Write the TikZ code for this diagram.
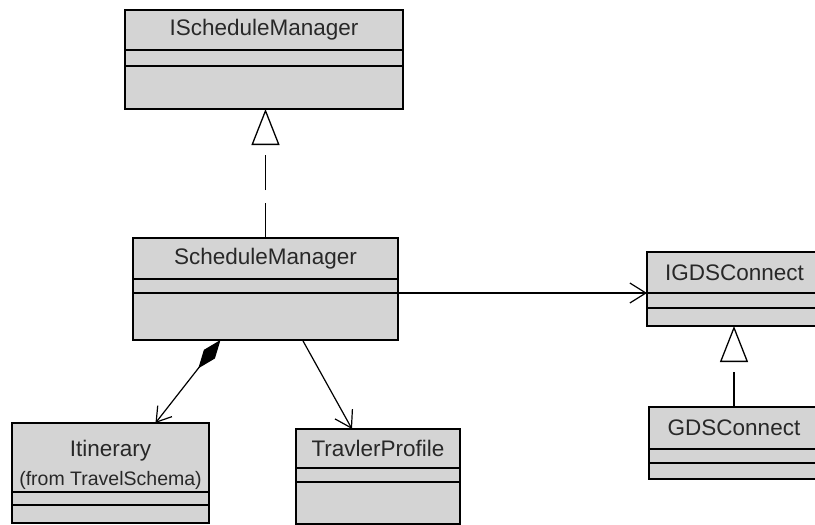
\documentclass[tikz,border=0pt]{standalone}
\usepackage{fontspec}
\setmainfont{Liberation Sans}
\usetikzlibrary{positioning,arrows.meta}
\definecolor{classgray}{RGB}{212,212,212}
\definecolor{classtext}{RGB}{40,40,40}
\newcommand{\fromfont}{\fontsize{19.5}{22}\selectfont}

\begin{document}
\begin{tikzpicture}[
		x=1pt,y=-1pt,
		node distance=0pt,
		part/.style={draw,fill=classgray,line width=1.3pt,outer sep=0pt,inner sep=0pt,text=classtext},
		classname/.style={part,font=\fontsize{22.5}{27}\selectfont,align=center},
		realize/.style={line width=1.3pt,dash pattern=on 35pt off 13pt,-{Triangle[open,length=36pt,width=28pt,line width=1.3pt]}},
		assoc/.style={line width=1.2pt,-{Straight Barb[length=16pt,width=20pt]}},
		compose/.style={line width=1.2pt,{Diamond[length=36pt,width=14pt]}-{Straight Barb[length=14pt,width=18pt]}}
	]
	\fill[white] (0,0) rectangle (815,525);
	\useasboundingbox (0,0) rectangle (815,525);
	\clip (0,0) rectangle (815,525);

	\node[classname,minimum width=278pt,minimum height=40pt,anchor=north west] (ism-name) at (125,10) {IScheduleManager};
	\node[part,minimum width=278pt,minimum height=16pt,below=of ism-name] (ism-attr) {};
	\node[part,minimum width=278pt,minimum height=43pt,below=of ism-attr] (ism-ops) {};

	\node[classname,minimum width=265pt,minimum height=41pt,anchor=north west] (sm-name) at (133,238) {ScheduleManager};
	\node[part,minimum width=265pt,minimum height=14pt,below=of sm-name] (sm-attr) {};
	\node[part,minimum width=265pt,minimum height=47pt,below=of sm-attr] (sm-ops) {};

	\node[classname,minimum width=197pt,minimum height=69pt,anchor=north west] (itin-name) at (12,423) {\rule{0pt}{32pt}Itinerary\\[2pt]\fromfont(from TravelSchema)};
	\node[part,minimum width=197pt,minimum height=13pt,below=of itin-name] (itin-attr) {};
	\node[part,minimum width=197pt,minimum height=18pt,below=of itin-attr] (itin-ops) {};

	\node[classname,minimum width=164pt,minimum height=39pt,anchor=north west] (tp-name) at (296,429) {TravlerProfile};
	\node[part,minimum width=164pt,minimum height=14pt,below=of tp-name] (tp-attr) {};
	\node[part,minimum width=164pt,minimum height=42pt,below=of tp-attr] (tp-ops) {};

	\node[classname,minimum width=175pt,minimum height=41pt,anchor=north west] (igds-name) at (647,252) {IGDSConnect};
	\node[part,minimum width=175pt,minimum height=15pt,below=of igds-name] (igds-attr) {};
	\node[part,minimum width=175pt,minimum height=18pt,below=of igds-attr] (igds-ops) {};

	\node[classname,minimum width=170pt,minimum height=42pt,anchor=north west] (gds-name) at (649,407) {GDSConnect};
	\node[part,minimum width=170pt,minimum height=14pt,below=of gds-name] (gds-attr) {};
	\node[part,minimum width=170pt,minimum height=16pt,below=of gds-attr] (gds-ops) {};

	\draw[realize] (sm-name.north) -- (sm-name.north |- ism-ops.south);
	\draw[realize] (gds-name.north) -- (gds-name.north |- igds-ops.south);
	\draw[assoc] (sm-attr.east |- igds-attr.north) -- (igds-attr.north west);
	\draw[compose] ([xshift=-45pt]sm-ops.south) -- ([xshift=45pt]itin-name.north);
	\draw[assoc] ([xshift=37pt]sm-ops.south) -- ([xshift=-26pt]tp-name.north);
\end{tikzpicture}
\end{document}
